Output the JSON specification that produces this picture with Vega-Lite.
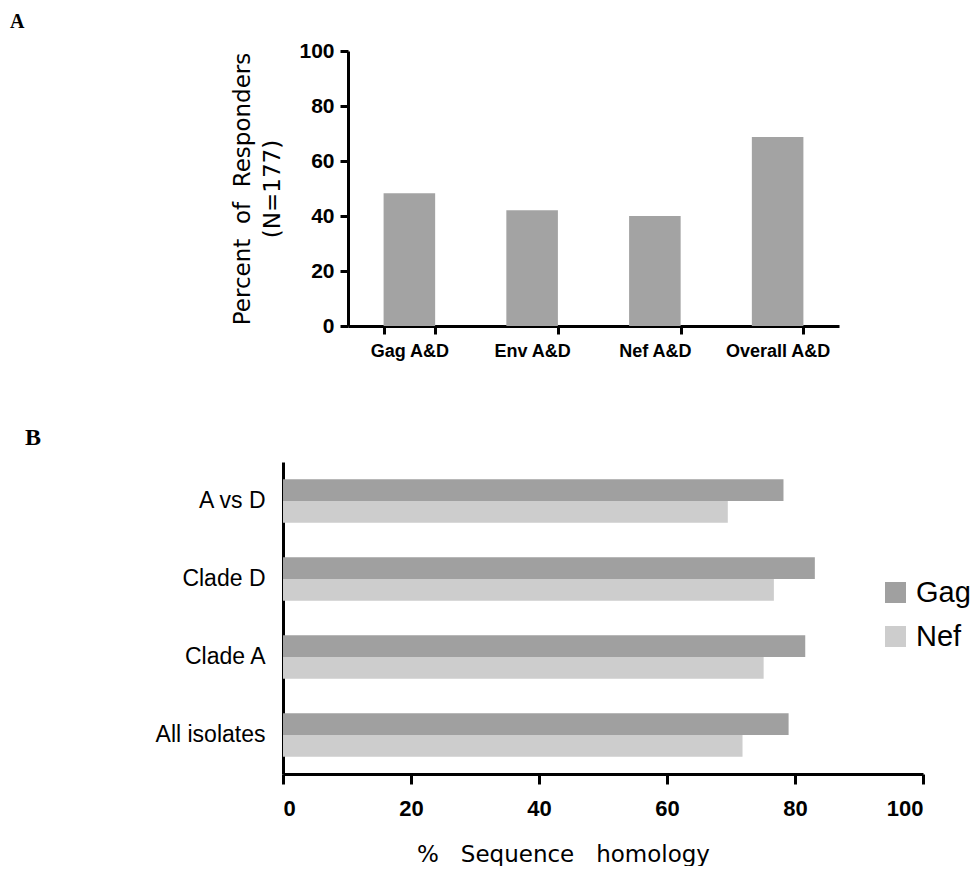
{
  "$schema": "https://vega.github.io/schema/vega-lite/v6.json",
  "background": "white",
  "padding": {"left": 10, "top": 12, "right": 0, "bottom": 0},
  "config": {
    "view": {"stroke": null},
    "font": "Liberation Sans",
    "concat": {"spacing": 66},
    "axis": {"domainColor": "black", "tickColor": "black", "labelColor": "black", "titleColor": "black", "grid": false}
  },
  "resolve": {"legend": {"color": "independent"}, "scale": {"color": "independent"}},
  "vconcat": [
    {
      "title": {"text": "A", "anchor": "start", "frame": "group", "dx": -273, "offset": 8, "font": "Liberation Serif", "fontSize": 20, "fontWeight": "bold", "color": "black"},
      "width": 556,
      "height": 275,
      "data": {"values": [
        {"antigen": "Gag A&D", "percent": 48.3},
        {"antigen": "Env A&D", "percent": 42.1},
        {"antigen": "Nef A&D", "percent": 40.0},
        {"antigen": "Overall A&D", "percent": 68.7}
      ]},
      "mark": {"type": "bar", "color": "#a3a3a3"},
      "encoding": {
        "x": {
          "field": "antigen", "type": "nominal", "sort": null,
          "scale": {"range": [65, 556], "paddingInner": 0.58, "paddingOuter": 0.29},
          "axis": {"title": null, "labelAngle": 0, "labelFontWeight": "bold", "labelFontSize": 18, "tickBand": "extent", "tickSize": 8, "tickWidth": 3, "domainWidth": 3, "labelPadding": 8}
        },
        "y": {
          "field": "percent", "type": "quantitative", "scale": {"domain": [0, 100]},
          "axis": {
            "values": [0, 20, 40, 60, 80, 100], "offset": -65,
            "title": ["Percent\u00a0\u00a0of\u00a0\u00a0Responders", "(N=177)"],
            "titleFont": "DejaVu Sans", "titleFontSize": 23, "titleFontWeight": "normal", "titlePadding": 14, "titleLineHeight": 30,
            "labelFontWeight": "bold", "labelFontSize": 21, "tickSize": 8, "tickWidth": 3, "domainWidth": 3, "labelPadding": 6
          }
        }
      }
    },
    {
      "title": {"text": "B", "anchor": "start", "frame": "group", "dx": -258, "offset": 12, "font": "Liberation Serif", "fontSize": 24, "fontWeight": "bold", "color": "black"},
      "width": 640,
      "height": 312,
      "data": {"values": [
        {"comparison": "A vs D", "gene": "Gag", "homology": 78.2},
        {"comparison": "A vs D", "gene": "Nef", "homology": 69.5},
        {"comparison": "Clade D", "gene": "Gag", "homology": 83.1},
        {"comparison": "Clade D", "gene": "Nef", "homology": 76.7},
        {"comparison": "Clade A", "gene": "Gag", "homology": 81.6},
        {"comparison": "Clade A", "gene": "Nef", "homology": 75.1},
        {"comparison": "All isolates", "gene": "Gag", "homology": 79.0},
        {"comparison": "All isolates", "gene": "Nef", "homology": 71.8}
      ]},
      "mark": "bar",
      "encoding": {
        "y": {
          "field": "comparison", "type": "nominal",
          "sort": ["A vs D", "Clade D", "Clade A", "All isolates"],
          "scale": {"paddingInner": 0.44, "paddingOuter": 0.22},
          "axis": {"title": null, "ticks": false, "labelFontSize": 23, "labelPadding": 18, "domainWidth": 3}
        },
        "yOffset": {"field": "gene", "type": "nominal", "sort": ["Gag", "Nef"]},
        "x": {
          "field": "homology", "type": "quantitative", "scale": {"domain": [0, 100]},
          "axis": {
            "values": [0, 20, 40, 60, 80, 100],
            "title": "%\u00a0\u00a0\u00a0Sequence\u00a0\u00a0\u00a0homology",
            "titleFont": "DejaVu Sans", "titleFontSize": 23, "titleFontWeight": "normal", "titlePadding": 24, "titleX": 280,
            "labelFontWeight": "bold", "labelFontSize": 22, "tickSize": 10, "tickWidth": 3, "domainWidth": 3, "labelPadding": 14
          }
        },
        "color": {
          "field": "gene", "type": "nominal",
          "scale": {"domain": ["Gag", "Nef"], "range": ["#a0a0a0", "#cdcdcd"]},
          "legend": {
            "title": null, "orient": "none", "legendX": 598, "legendY": 116,
            "symbolType": "square", "symbolSize": 441, "symbolStrokeWidth": 0,
            "labelFontSize": 29, "labelOffset": 6, "rowPadding": 14, "padding": 0, "labelColor": "black"
          }
        }
      }
    }
  ]
}
